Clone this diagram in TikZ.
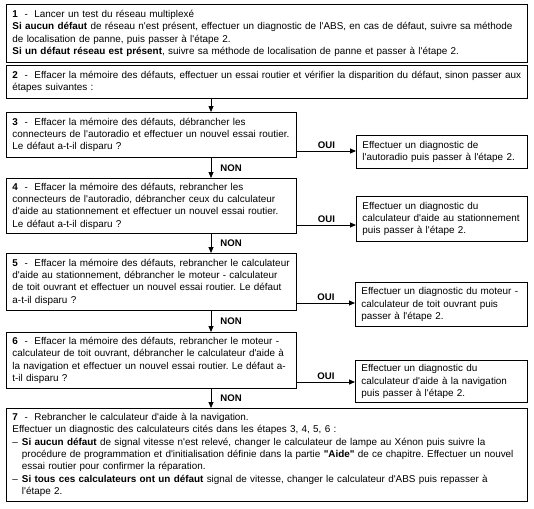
\documentclass[tikz,border=0pt]{standalone}
\usepackage{fontspec}
\setmainfont{Liberation Sans}[Ligatures=TeXOff]
\frenchspacing
\usetikzlibrary{arrows.meta}
\tikzset{
  box/.style={draw, line width=0.9pt, inner xsep=6pt, inner ysep=0pt, anchor=north west,
    align=left, font=\fontsize{9.9}{12.3}\selectfont},
  arr/.style={line width=0.8pt, -{Triangle[length=6pt,width=5pt]}},
  lab/.style={font=\fontsize{9.6}{11}\selectfont\bfseries, inner sep=0pt}
}
\newcommand\bx[6]{\node[box, minimum width=#4pt, minimum height=#5pt, text width=#4pt-12pt] (#1) at (#2,#3) {#6};}
\newcommand\dsh{\makebox[9.5pt][l]{–}}
\newcommand\ind{\hspace*{9.5pt}}
\begin{document}
\begin{tikzpicture}[x=1pt,y=-1pt]
\useasboundingbox[fill=white] (0,0) rectangle (534,508);
\bx{B1}{6}{4}{521}{58}{\textbf{1}\ \ -\ \ Lancer un test du réseau multiplexé\\
\textbf{Si aucun défaut} de réseau n'est présent, effectuer un diagnostic de l'ABS, en cas de défaut, suivre sa méthode\\
de localisation de panne, puis passer à l'étape 2.\\
\textbf{Si un défaut réseau est présent}, suivre sa méthode de localisation de panne et passer à l'étape 2.}
\bx{B2}{6}{65}{521}{33}{\textbf{2}\ \ -\ \ Effacer la mémoire des défauts, effectuer un essai routier et vérifier la disparition du défaut, sinon passer aux\\
étapes suivantes :}
\bx{B3}{6}{112}{290}{45}{\textbf{3}\ \ -\ \ Effacer la mémoire des défauts, débrancher les\\
connecteurs de l'autoradio et effectuer un nouvel essai routier.\\
Le défaut a-t-il disparu ?}
\bx{R3}{356}{135}{171}{33}{Effectuer un diagnostic de\\
l'autoradio puis passer à l'étape 2.}
\bx{B4}{6}{178}{290}{55}{\textbf{4}\ \ -\ \ Effacer la mémoire des défauts, rebrancher les\\
connecteurs de l'autoradio, débrancher ceux du calculateur\\
d'aide au stationnement et effectuer un nouvel essai routier.\\
Le défaut a-t-il disparu ?}
\bx{R4}{356}{196}{171}{45}{Effectuer un diagnostic du\\
calculateur d'aide au stationnement\\
puis passer à l'étape 2.}
\bx{B5}{6}{253}{290}{57}{\textbf{5}\ \ -\ \ Effacer la mémoire des défauts, rebrancher le calculateur\\
d'aide au stationnement, débrancher le moteur - calculateur\\
de toit ouvrant et effectuer un nouvel essai routier. Le défaut\\
a-t-il disparu ?}
\bx{R5}{355}{282}{172}{44}{Effectuer un diagnostic du moteur -\\
calculateur de toit ouvrant puis\\
passer à l'étape 2.}
\bx{B6}{6}{332}{290}{56}{\textbf{6}\ \ -\ \ Effacer la mémoire des défauts, rebrancher le moteur -\\
calculateur de toit ouvrant, débrancher le calculateur d'aide à\\
la navigation et effectuer un nouvel essai routier. Le défaut a-\\
t-il disparu ?}
\bx{R6}{355}{360}{172}{42}{Effectuer un diagnostic du\\
calculateur d'aide à la navigation\\
puis passer à l'étape 2.}
\bx{B7}{6}{408}{521}{93}{\textbf{7}\ \ -\ \ Rebrancher le calculateur d'aide à la navigation.\\
Effectuer un diagnostic des calculateurs cités dans les étapes 3, 4, 5, 6 :\\
\dsh\textbf{Si aucun défaut} de signal vitesse n'est relevé, changer le calculateur de lampe au Xénon puis suivre la\\
\ind procédure de programmation et d'initialisation définie dans la partie \textbf{"Aide"} de ce chapitre. Effectuer un nouvel\\
\ind essai routier pour confirmer la réparation.\\
\dsh\textbf{Si tous ces calculateurs ont un défaut} signal de vitesse, changer le calculateur d'ABS puis repasser à\\
\ind l'étape 2.}
% vertical connectors
\coordinate (ax) at (211,0);
\draw[arr] (B2.south -| ax) -- (B3.north -| ax);
\draw[arr] (B3.south -| ax) -- node[lab, right=9pt] {NON} (B4.north -| ax);
\draw[arr] (B4.south -| ax) -- node[lab, right=9pt] {NON} (B5.north -| ax);
\draw[arr] (B5.south -| ax) -- node[lab, right=9pt] {NON} (B6.north -| ax);
\draw[arr] (B6.south -| ax) -- node[lab, right=9pt] {NON} (B7.north -| ax);
% OUI connectors
\coordinate (o3) at (0,151);
\coordinate (o4) at (0,225);
\coordinate (o5) at (0,303);
\coordinate (o6) at (0,382);
\draw[arr] (B3.east |- o3) -- node[lab, above=2.5pt] {OUI} (R3.west |- o3);
\draw[arr] (B4.east |- o4) -- node[lab, above=2.5pt] {OUI} (R4.west |- o4);
\draw[arr] (B5.east |- o5) -- node[lab, above=2.5pt] {OUI} (R5.west |- o5);
\draw[arr] (B6.east |- o6) -- node[lab, above=2.5pt] {OUI} (R6.west |- o6);
\end{tikzpicture}
\end{document}
